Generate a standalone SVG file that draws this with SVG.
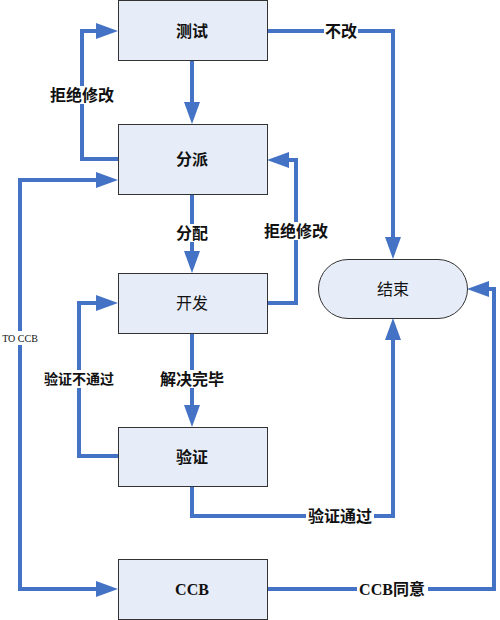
<svg xmlns="http://www.w3.org/2000/svg" width="500" height="620" viewBox="0 0 500 620">
<style>
.box{fill:#E7EDF8;stroke:#333;stroke-width:1}
.nt{font-family:"Liberation Serif","Noto Sans CJK SC",serif;font-size:16px;font-weight:bold;fill:#111;text-anchor:middle;dominant-baseline:central}
.lt{font-family:"Liberation Serif","Noto Sans CJK SC",serif;font-size:16px;font-weight:bold;fill:#111;text-anchor:middle;dominant-baseline:central}
.bg{fill:#fff}
.ln{fill:none;stroke:#4472C4;stroke-width:4;marker-end:url(#ah)}
</style>
<defs>
<marker id="ah" markerUnits="userSpaceOnUse" markerWidth="24" markerHeight="18" refX="0" refY="8" orient="auto-start-reverse" viewBox="0 0 24 16">
<path d="M0,0 L22,8 L0,16 z" fill="#4472C4"/>
</marker>
</defs>
<rect width="500" height="620" fill="#fff"/>
<g id="connectors">
<path class="ln" d="M192,60 V102"/>
<path class="ln" d="M267,31 H393 V237"/>
<path class="ln" d="M118,159 H82 V31 H96"/>
<path class="ln" d="M192,195 V251"/>
<path class="ln" d="M267,303 H296 V160 H289"/>
<path class="ln" d="M192,333 V405"/>
<path class="ln" d="M118,456 H79 V303 H96"/>
<path class="ln" d="M192,486 V516 H393 V340"/>
<path class="ln" d="M96,180 H20 V589 H96" marker-start="url(#ah)"/>
<path class="ln" d="M267,589 H494 V289 H489"/>
<g id="labels">
<rect class="bg" x="324" y="22" width="34" height="18"/><text class="lt" x="341" y="31">不改</text>
<rect class="bg" x="48" y="86" width="68" height="18"/><text class="lt" x="82" y="95">拒绝修改</text>
<rect class="bg" x="175" y="224" width="34" height="18"/><text class="lt" x="192" y="233">分配</text>
<rect class="bg" x="262" y="222" width="68" height="18"/><text class="lt" x="296" y="231">拒绝修改</text>
<rect class="bg" x="43" y="370" width="72" height="18"/><text class="lt" x="79" y="379" style="font-size:14px">验证不通过</text>
<rect class="bg" x="158" y="370" width="68" height="18"/><text class="lt" x="192" y="379">解决完毕</text>
<rect class="bg" x="306" y="507" width="68" height="18"/><text class="lt" x="340" y="516">验证通过</text>
<rect class="bg" x="357" y="580" width="71" height="18"/><text class="lt" x="392" y="589">CCB同意</text>
<rect class="bg" x="0" y="331" width="40" height="14"/><text class="lt" x="20" y="338" style="font-size:10px;font-weight:normal">TO CCB</text>
</g>
</g>
<g id="n-test"><rect class="box" x="118.5" y="0.5" width="149" height="60"/><text class="nt" x="192" y="31">测试</text></g>
<g id="n-assign"><rect class="box" x="118.5" y="124.5" width="149" height="70"/><text class="nt" x="192" y="159">分派</text></g>
<g id="n-dev"><rect class="box" x="118.5" y="273.5" width="149" height="60"/><text class="nt" x="192" y="303" style="font-weight:normal">开发</text></g>
<g id="n-verify"><rect class="box" x="118.5" y="427.5" width="149" height="59"/><text class="nt" x="192" y="457">验证</text></g>
<g id="n-ccb"><rect class="box" x="118.5" y="559.5" width="149" height="60"/><text class="nt" x="192" y="589">CCB</text></g>
<g id="n-end"><rect class="box" x="318.5" y="259.5" width="149" height="59" rx="29.5" ry="29.5"/><text class="nt" x="393" y="289" style="font-weight:normal">结束</text></g>
</svg>
